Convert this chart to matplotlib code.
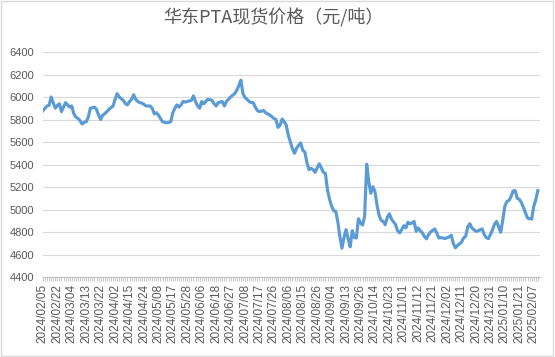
import matplotlib
matplotlib.use("Agg")
import matplotlib.pyplot as plt
from matplotlib.patches import Rectangle

plt.rcParams['font.family'] = ['Liberation Sans', 'Noto Sans CJK SC', 'DejaVu Sans']

title = '华东PTA现货价格（元/吨）'

# daily spot price, one value per trading day
prices = [
    5877, 5900, 5920, 5925, 6000, 5950, 5900, 5925, 5940, 5870,
    5910, 5950, 5930, 5910, 5920, 5850, 5820, 5810, 5790, 5760,
    5775, 5780, 5820, 5900, 5905, 5910, 5890, 5840, 5800, 5840,
    5850, 5870, 5890, 5905, 5920, 5980, 6030, 6000, 5985, 5970,
    5940, 5930, 5960, 5980, 6020, 5980, 5960, 5950, 5945, 5935,
    5920, 5920, 5920, 5900, 5850, 5860, 5840, 5810, 5780, 5775,
    5770, 5775, 5780, 5860, 5900, 5930, 5910, 5930, 5960, 5955,
    5960, 5965, 5970, 6010, 5960, 5920, 5900, 5960, 5940, 5960,
    5980, 5975, 5970, 5940, 5920, 5950, 5955, 5960, 5920, 5960,
    5980, 6000, 6015, 6030, 6060, 6100, 6150, 6030, 5995, 5980,
    5960, 5950, 5950, 5910, 5880, 5870, 5875, 5880, 5860, 5850,
    5840, 5825, 5810, 5800, 5730, 5750, 5805, 5780, 5750, 5660,
    5600, 5540, 5500, 5545, 5570, 5592, 5526, 5512, 5420, 5355,
    5365, 5355, 5330, 5370, 5407, 5370, 5330, 5321, 5174, 5090,
    5030, 4990, 4983, 4890, 4760, 4656, 4750, 4821, 4740, 4668,
    4812, 4750, 4747, 4918, 4880, 4862, 4939, 5403, 5250, 5144,
    5203, 5160, 5040, 4950, 4903, 4894, 4865, 4930, 4962, 4915,
    4890, 4865, 4810, 4792, 4821, 4856, 4836, 4886, 4874, 4880,
    4894, 4806, 4836, 4810, 4792, 4760, 4739, 4777, 4800, 4815,
    4827, 4790, 4747, 4750, 4747, 4741, 4750, 4756, 4771, 4700,
    4659, 4680, 4695, 4710, 4747, 4762, 4844, 4874, 4836, 4820,
    4806, 4810, 4820, 4827, 4777, 4750, 4741, 4777, 4820, 4870,
    4894, 4844, 4797, 4909, 5030, 5071, 5080, 5115, 5165, 5168,
    5100, 5091, 5062, 5020, 4970, 4924, 4918, 4915, 5027, 5086,
    5168,
]

date_labels = [
    '2024/02/05', '2024/02/22', '2024/03/04', '2024/03/13', '2024/03/22',
    '2024/04/02', '2024/04/15', '2024/04/24', '2024/05/08', '2024/05/17',
    '2024/05/28', '2024/06/06', '2024/06/18', '2024/06/27', '2024/07/08',
    '2024/07/17', '2024/07/26', '2024/08/06', '2024/08/15', '2024/08/26',
    '2024/09/04', '2024/09/13', '2024/09/26', '2024/10/14', '2024/10/23',
    '2024/11/01', '2024/11/12', '2024/11/21', '2024/12/02', '2024/12/11',
    '2024/12/20', '2024/12/31', '2025/01/10', '2025/01/21', '2025/02/07',
]
label_step = 7

y_ticks = [4400, 4600, 4800, 5000, 5200, 5400, 5600, 5800, 6000, 6200, 6400]

fig = plt.figure(figsize=(5.55, 3.57), dpi=100)
fig.patches.append(Rectangle((0.002, 0.003), 0.995, 0.993, transform=fig.transFigure,
                             fill=False, edgecolor='#d9d9d9', linewidth=1.0))
ax = fig.add_axes([42.5 / 555, 1 - 277 / 357, (539.5 - 42.5) / 555, (277 - 52) / 357])

x = list(range(len(prices)))
ax.plot(x, prices, color='#5b9bd5', linewidth=2.25, solid_joinstyle='round', zorder=3)

ax.set_ylim(4400, 6400)
ax.set_yticks(y_ticks)
ax.set_xlim(-0.2, len(prices) - 0.2)
ax.set_xticks([i * label_step for i in range(len(date_labels))])
ax.set_xticklabels(date_labels, rotation=90, fontsize=8.5, color='#595959')
ax.set_xticks(x, minor=True)
ax.tick_params(axis='x', which='both', length=3, color='#bfbfbf', width=0.6, pad=2)
ax.tick_params(axis='y', length=0, labelsize=8, labelcolor='#595959', pad=6)

ax.grid(axis='y', color='#d9d9d9', linewidth=0.8)
ax.set_axisbelow(True)
for side in ['left', 'right', 'top']:
    ax.spines[side].set_visible(False)
ax.spines['bottom'].set_color('#bfbfbf')
ax.spines['bottom'].set_linewidth(0.8)

fig.text(0.492, 1 - 18 / 357, title, ha='center', va='center', fontsize=13,
         color='#595959', family=['Noto Sans CJK SC', 'DejaVu Sans'])

fig.savefig('out.png', dpi=100)
